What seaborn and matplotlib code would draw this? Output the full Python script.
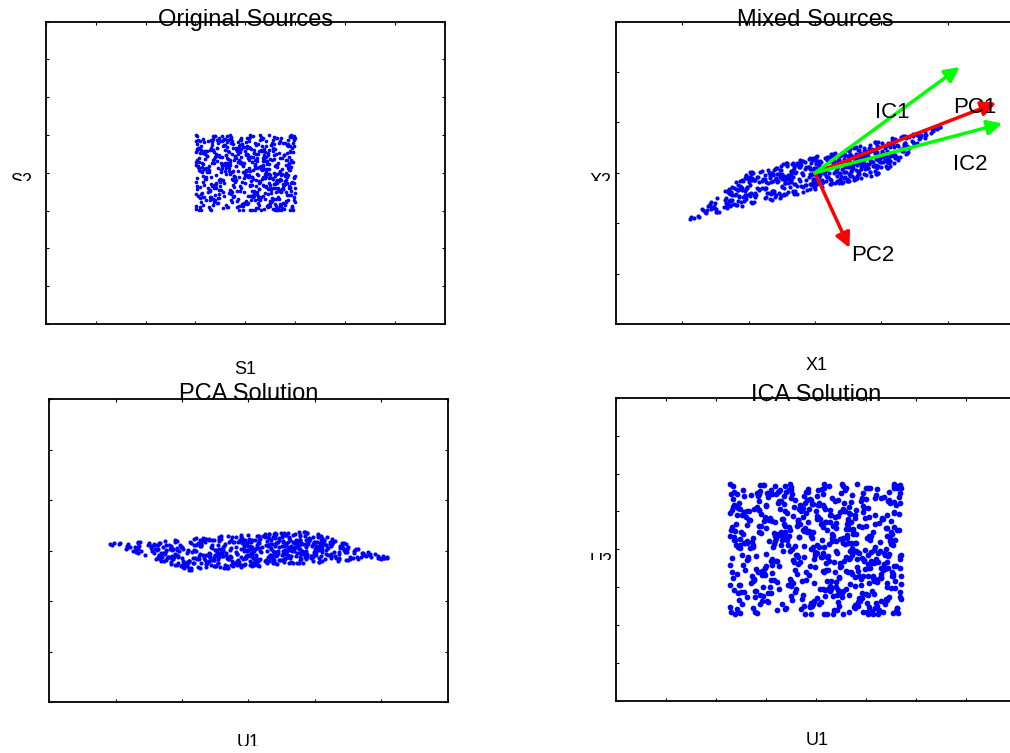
import numpy as np
import pandas as pd
import seaborn as sns
import matplotlib as mpl
mpl.use('Agg')
import matplotlib.pyplot as plt
from matplotlib.transforms import Bbox, TransformedBbox

# source samples (hundredths), read/estimated off the "Original Sources" square
s1 = [63, -12, 87, -45, 5, -91, 34, 72, -66, 18, -3, 49, -79, 95, -28, 56, -57, 11, 81, -38,
      -84, 27, -19, 68, 44, -72, 91, -7, -53, 36, 14, -96, 59, -31, 77, -62, 2, 39, -88, 23,
      51, -47, 8, -25, 96, -69, 31, 66, -14, -83, 45, 19, -58, 84, -2, 73, -36, 28, -94, 60,
      -21, 89, -65, 13, 54, -41, -99, 37, 80, -9, 25, -76, 62, -50, 4, 93, -33, 70, -17, 42,
      16, -86, 75, -27, 48, 99, -60, -4, 33, -71, 86, -44, 9, 58, -92, 21, -11, 67, -55, 30,
      -74, 40, -37, 97, -15, 64, 20, -81, 52, -23, -67, 78, 1, -49, 35, -97, 83, -6, 46, -30,
      71, -18, 57, -89, 29, -63, 92, 12, -42, 76, -8, -78, 38, 65, -26, 50, -93, 15, -59, 85,
      -35, 6, -70, 43, 90, -52, 24, -13, 61, -87, 79, -29, -64, 10, 47, -40, 98, -20, 32, -73,
      88, -56, 22, -95, 69, -1, 41, -80, 55, 17, -46, 94, -16, -68, 26, 82, -39, 7, -85, 53,
      -10, 74, -48, 3, -82, 36, 61, -24, 90, -61, 12, -34, 47, 79, -98, 27, -5, 56, -43, 18,
      39, -90, 66, -32, 85, -6, -77, 21, 4, -54, 72, 33, -22, 96, -70, 43, -13, -87, 58, 9,
      -63, 31, 94, -47, 17, -28, 53, -99, 75, -1, 40, -59, 86, -16, -38, 64, 11, -82, 28, 70,
      2, -69, 45, 82, -35, 60, -11, 14, -93, 37, -52, 89, -26, 7, 68, -77, 50, -4, 97, -45,
      -29, 57, -84, 24, 73, -18, 99, -40, 30, -67, 8, 62, -91, 44, -8, 19, -56, 83, -23, 36,
      92, -3, 26, -73, 55, -50, 13, 80, -36, 48, -85, 3, 69, -20, 87, -64, 34, -97, 15, -12,
      -46, 81, -9, 38, -60, 95, -26, 47, -78, 22, 65, -42, 10, -89, 58, 29, -71, 42, -2, 77,
      25, -33, 70, -98, 6, 42, -65, 88, 16, -5, -48, 76, -74, 31, -15, 90, -30, 63, -88, 50,
      -57, 12, -24, 61, -80, 18, 37, -14, 71, -95, 49, -7, 28, 84, -51, 5, -66, 20, 93, -39,
      78, -75, 4, 52, -43, 85, -17, -58, 43, 67, -31, 15, -99, 55, 32, -22, 74, -48, 1, -83,
      -15, 46, -92, 19, 66, -37, 28, 98, -68, -27, 82, -54, 41, -3, -79, 60, -10, 35, -61, 89,
      54, -6, 35, -55, -21, 78, -85, 7, 50, -44, 23, 91, -62, 17, 72, -34, 45, -92, 64, -19,
      -40, 67, -52, 89, 10, -8, 59, -71, 26, 83, -96, 38, -19, 76, -47, 13, 86, -27, -76, 40,
      8, -80, 17, -35, 93, -59, 46, -30, -87, 62, 1, -73, 53, -41, 22, -90, 66, 4, 37, -66,
      -96, 33, 62, 27, -64, 11, -44, 71, -2, 39, -18, 55, -83, 99, -57, 48, -25, 79, -9, 24,
      35, -22, -61, 90, 40, -94, 18, -12, 85, -50, 60, -28, 6, -72, 94, -37, 14, -53, 70, -4,
      -68, 87, 29, -11, -77, 49, -3, 64, -33, 10, -89, 74, 35, -65, 3, 52, -84, 25, -31, 92,
      47, -43, 80, -63, 20, -24, 67, -91, 42, 98, -13, -46, 87, 23, -58, 68, -7, -99, 56, -28,
      -7, 59, -38, 13, -97, 82, -51, 30, -16, -75, 57, 26, -36, 73, -94, 8, 41, -62, 19, 81,
      90, -64, 41, -83, 32, 0, 75, -47, 63, -20, 34, -86, 48, -11, 63, -55, 96, -15, -45, 11,
      -52, 20, -90, 58, -5, -32, 10, 84, -69, 45, -39, 69, -1, 55, -24, 37, -79, 88, -70, 2,
      -98, -93, 97, 99, -96, 95, -99, 91, -88, 98, -97, 99, 10, -30, -91, 94, 60, -60, -99, 98]
s2 = [-22, 71, 8, -93, 46, -37, 59, -5, 84, -61, 27, -80, 13, 95, -48, -16, 66, -71, 33, -2,
      90, -44, 19, 52, -88, 3, -26, 77, -57, 38, -10, 64, -95, 21, 48, -33, 81, -69, 6, -50,
      -78, 12, 68, -19, 30, -64, 96, -41, 5, 57, -85, 24, -7, 73, -52, 40, -91, 16, 87, -29,
      44, -97, 35, -12, 79, 61, -55, 9, -30, 92, -70, 2, 49, -24, -83, 67, 14, -47, 58, -8,
      -63, 26, -38, 85, -4, -76, 43, 69, -17, -45, 18, 88, -60, 36, 7, -92, 55, -21, -66, 99,
      11, -53, 82, -28, 63, 20, -99, 50, 74, -9, -35, 47, -74, 3, 93, -13, -58, 76, -42, 29,
      -86, 39, -1, 70, -67, 54, 15, -31, 89, -79, 62, -15, 31, -94, 51, -6, 28, 97, -39, -72,
      58, -11, -73, 24, 97, -46, 32, -87, -23, 16, 80, -56, 98, -34, -3, 74, -65, 42, 10, -90,
      -41, 86, 50, -62, 4, -27, 72, 37, -95, 60, -18, 29, -49, 65, -81, 20, 46, -11, -84, 34,
      75, -3, -46, 91, -32, 17, -70, 5, 55, -58, 41, -90, 23, -6, 84, -42, 1, 63, -26, 52,
      -14, -67, 27, 6, 88, -82, 45, -20, 67, 12, -98, 58, -37, 80, -64, 31, -12, -54, 94, -33,
      36, 61, -89, 42, -56, 78, -13, 99, -44, -4, 54, -29, 71, -75, 19, -97, 62, 9, -21, 83,
      -5, -30, 53, -77, 21, -40, 87, -60, 14, 47, -66, 7, -16, 92, -45, 58, 36, -87, 70, -18,
      95, 48, -24, 13, -94, 67, -8, 26, -72, 81, 34, -51, 85, -2, -39, 12, -79, 52, -60, 22,
      -59, 3, 76, -48, 57, -15, 30, -84, 97, -27, -8, 68, -89, 44, 26, -70, 90, -35, 8, -99,
      18, -75, 41, 64, -36, 96, -52, 10, -12, 73, -63, 22, 4, -55, 77, -25, -47, 83, -14, 46,
      -92, 55, -15, 29, -81, 2, 60, -34, 42, -98, 25, 78, -41, 17, -69, 94, -3, -28, 61, -74,
      67, -21, -65, 93, 9, -58, 37, 81, -50, 19, -33, -86, 57, -10, 43, -61, 73, 20, -94, 14,
      -31, 83, 4, -54, 74, -7, -91, 47, 28, -68, 90, -17, -24, 66, -98, 35, -43, 8, 51, -65,
      49, -90, 66, 18, -43, 39, -27, -72, 86, 1, -52, 45, 10, -83, 59, -8, 27, -60, 98, -37,
      -74, 23, -33, 80, -11, -96, 52, 14, -40, 70, -2, 34, -78, 53, -19, 88, -56, 39, -4, 62,
      6, -49, 91, -41, 65, 28, -82, 61, -62, 33, 77, -95, 19, -29, 97, -48, 12, -77, 44, -13,
      84, -16, -57, 36, -25, 50, 9, -45, 2, -88, 46, 18, -67, 90, -34, 4, -99, 71, -35, 27,
      -44, 70, 20, -86, 89, -62, 24, 92, -79, 55, -20, -40, 82, -53, 32, -14, 65, -22, 87, -57,
      31, -8, -71, 57, -3, 15, -49, 33, 76, -36, 63, -71, 38, 7, -90, 69, -31, 48, -82, 17,
      -97, 43, 86, -34, 45, -87, 69, -18, 18, 99, -77, 11, -11, 60, 50, -45, 23, -6, 34, -48,
      60, -60, -9, 25, -71, 76, -1, 53, -37, -14, 28, 85, -59, 40, -26, 79, -88, 55, -17, 91,
      -25, 17, 47, -99, 34, -20, 84, -66, 62, -52, -30, 51, 26, -93, 67, -5, 42, -39, 78, 0,
      72, -84, -35, 10, -64, 59, -42, 21, 93, -23, 8, -65, 99, -47, 15, -80, 54, 30, -50, 41,
      -18, 35, 63, -68, 21, -54, 94, -28, -10, 48, -84, 39, -9, 86, -31, 43, -73, 24, -96, 7,
      -96, -99, 98, 93, 97, -97, -88, 99, -97, 86, 60, -40, -98, 99, -91, 94, -99, 98, 20, -10]

# mixing matrix, principal axes and ICA output scale
mixing = [[1.46, 0.47],
          [0.46, 0.48]]
pca_axes = [[0.927, 0.375],
            [0.375, -0.927]]
ica_scale = 1.73

# arrows drawn in "Mixed Sources"
arrow_names = ['PC1', 'PC2', 'IC1', 'IC2']
arrow_vecs = [[2.73, 1.39], [0.52, -1.49], [2.18, 2.10], [2.82, 0.98]]
arrow_label_pos = [[2.40, 1.19], [0.87, -1.74], [1.16, 1.09], [2.34, 0.06]]

titles = ['Original Sources', 'Mixed Sources', 'PCA Solution', 'ICA Solution']
xlabels = ['S1', 'X1', 'U1', 'U1']
ylabels = ['S2', 'X2', 'U2', 'U2']

# build the four data sets
S = np.array([s1, s2]) / 100.0
X = np.array(mixing) @ S
U_pca = np.array(pca_axes) @ X
U_ica = S * ica_scale
frames = [pd.DataFrame({'x': d[0], 'y': d[1]}) for d in (S, X, U_pca, U_ica)]

sns.set_theme(style='white')
plt.rcParams['font.family'] = ['Liberation Sans', 'DejaVu Sans']
plt.rcParams['text.color'] = 'black'

W, H = 1010, 753
fig = plt.figure(figsize=(W / 100, H / 100), dpi=100)

# axes boxes in pixels: left, top, right, bottom
boxes = [(45.7, 21.7, 445.0, 324.0),
         (615.7, 21.7, 1014.2, 324.0),
         (49.3, 399.0, 447.7, 702.3),
         (615.7, 397.7, 1015.7, 701.0)]
lims = [4, 3, 3, 4]
sizes = [7, 9, 9, 17]
title_pads = [-3.1, -3.1, -0.6, -2.2]
# label text placement (pixels): x centre, baseline / top, clip bottom
xlab_pos = [(245.0, 374.0, 377.0), (817.0, 370.0, 377.0), (248.0, 747.0, 746.0), (817.0, 745.0, 746.0)]
ylab_pos = [(21.0, 173.0, 180.5), (601.0, 173.0, 181.0), None, (601.0, 553.0, 560.0)]


def clip_text(t, y0, y1):
    bb = Bbox.from_extents(0, 1 - y1 / H, 1, 1 - y0 / H)
    t.set_clip_box(TransformedBbox(bb, fig.transFigure))
    t.set_clip_on(True)


axes = []
for i, (l, t, r, b) in enumerate(boxes):
    ax = fig.add_axes([l / W, 1 - b / H, (r - l) / W, (b - t) / H])
    sns.scatterplot(data=frames[i], x='x', y='y', ax=ax, color='blue', s=sizes[i],
                    linewidth=0, legend=False, zorder=2)
    lim = lims[i]
    ax.set_xlim(-lim, lim)
    ax.set_ylim(-lim, lim)
    ax.set_xticks(range(-lim, lim + 1))
    ax.set_yticks(range(-lim, lim + 1))
    ax.tick_params(direction='in', length=2.3, width=0.8, colors='black',
                   bottom=True, top=True, left=True, right=True,
                   labelbottom=False, labelleft=False)
    for sp in ax.spines.values():
        sp.set_color('black')
        sp.set_linewidth(1.3)
    ax.set_xlabel('')
    ax.set_ylabel('')
    # explicit y keeps matplotlib from lifting the title off the box
    ax.set_title(titles[i], fontsize=17, pad=title_pads[i], y=1.0, color='black')
    axes.append(ax)

    # axis labels, cut off like in the reference
    xc, yb, yclip = xlab_pos[i]
    tx = fig.text(xc / W, 1 - yb / H, xlabels[i], ha='center', va='baseline',
                  fontsize=13, color='black')
    clip_text(tx, 0, yclip)
    if ylab_pos[i] is not None:
        xc, ytop, yclip = ylab_pos[i]
        ty = fig.text(xc / W, 1 - ytop / H, ylabels[i], ha='center', va='top',
                      fontsize=13, color='black')
        clip_text(ty, 0, yclip)

# PC / IC arrows in the mixed panel
ax = axes[1]
for name, vec, pos in zip(arrow_names, arrow_vecs, arrow_label_pos):
    col = (1, 0, 0) if name.startswith('PC') else (0, 1, 0)
    ax.annotate('', xy=vec, xytext=(0, 0),
                arrowprops=dict(arrowstyle='-|>', color=col, lw=2.5, mutation_scale=22,
                                shrinkA=0, shrinkB=0),
                zorder=3 if name.startswith('PC') else 4)
    ax.text(pos[0], pos[1], name, ha='center', va='baseline', fontsize=16, color='black', zorder=5)

plt.savefig('out.png', dpi=100, facecolor='white')
plt.close('all')
